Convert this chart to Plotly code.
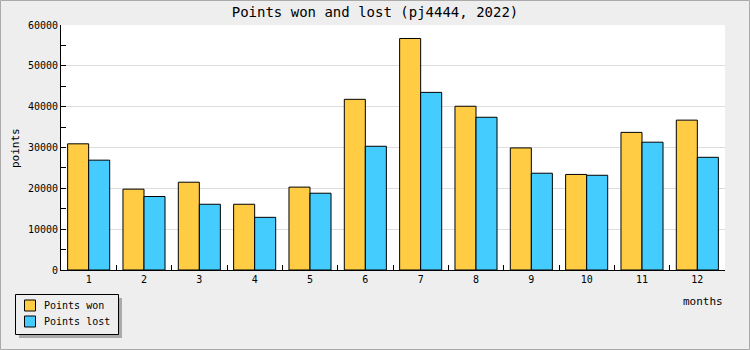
import plotly.graph_objects as go

months = ["1", "2", "3", "4", "5", "6", "7", "8", "9", "10", "11", "12"]
points_won = [30900, 19800, 21500, 16100, 20300, 41800, 56700, 40100, 29900, 23400, 33700, 36700]
points_lost = [26900, 18000, 16100, 12900, 18800, 30300, 43500, 37400, 23700, 23200, 31300, 27600]
series_names = ["Points won", "Points lost"]
series_colors = ["#FFCC44", "#44CCFF"]

FONT = "DejaVu Sans Mono"
L, R, T, B = 61, 25, 25, 80
W, H = 750, 350
pw, ph = W - L - R, H - T - B

def px_x(p):
    return (p - L) / pw

def px_y(p):
    return (H - B - p) / ph

fig = go.Figure()
for name, vals, col in zip(series_names, [points_won, points_lost], series_colors):
    fig.add_trace(go.Bar(x=months, y=vals, name=name,
                         marker=dict(color=col, line=dict(color="#000000", width=1))))

shapes = [
    dict(type="rect", xref="paper", yref="paper",
         x0=px_x(0.5), x1=px_x(W - 0.5), y0=px_y(0.5), y1=px_y(H - 0.5),
         line=dict(color="#AAAAAA", width=1), fillcolor="rgba(0,0,0,0)", layer="above"),
    # legend shadow and box
    dict(type="rect", xref="paper", yref="paper",
         x0=px_x(19), x1=px_x(122), y0=px_y(298), y1=px_y(338),
         line=dict(width=0), fillcolor="#AAAAAA", layer="above"),
    dict(type="rect", xref="paper", yref="paper",
         x0=px_x(15.5), x1=px_x(118.5), y0=px_y(294.5), y1=px_y(334.5),
         line=dict(color="#000000", width=1), fillcolor="#EEEEEE", layer="above"),
]
annotations = [
    dict(text="points", xref="paper", yref="paper", x=px_x(15), y=px_y(148),
         textangle=-90, showarrow=False, font=dict(family=FONT, size=11),
         xanchor="center", yanchor="middle"),
    dict(text="months", xref="paper", yref="paper", x=px_x(725), y=px_y(301),
         showarrow=False, font=dict(family=FONT, size=11),
         xanchor="right", yanchor="middle"),
]
for i, (name, col) in enumerate(zip(series_names, series_colors)):
    cy = 305.5 + 16 * i
    shapes.append(dict(type="rect", xref="paper", yref="paper",
                       x0=px_x(24.5), x1=px_x(35.5), y0=px_y(cy - 5.5), y1=px_y(cy + 5.5),
                       line=dict(color="#000000", width=1), fillcolor=col, layer="above"))
    annotations.append(dict(text=name, xref="paper", yref="paper", x=px_x(42), y=px_y(cy),
                            showarrow=False, xanchor="left", yanchor="middle",
                            font=dict(family=FONT, size=10)))

fig.update_layout(
    width=W, height=H,
    margin=dict(l=L, r=R, t=T, b=B),
    paper_bgcolor="#EEEEEE", plot_bgcolor="#FFFFFF",
    font=dict(family=FONT, size=11, color="#000000"),
    title=dict(text="Points won and lost (pj4444, 2022)", x=0.5, xanchor="center",
               y=1 - 12 / H, yanchor="middle", font=dict(family=FONT, size=14, color="#000000")),
    barmode="group", bargap=0.24, bargroupgap=0,
    showlegend=False,
    xaxis=dict(type="category", showline=True, linecolor="#000000", linewidth=1,
               ticks="inside", tickson="boundaries", ticklen=5, tickcolor="#000000",
               showgrid=False, tickfont=dict(family=FONT, size=10), title=None),
    yaxis=dict(range=[0, 60000], dtick=10000, tickformat="d", showline=True,
               linecolor="#000000", linewidth=1,
               ticks="inside", ticklen=5, tickcolor="#000000",
               minor=dict(ticks="inside", dtick=5000, ticklen=5, tickcolor="#000000", showgrid=False),
               showgrid=True, gridcolor="#DDDDDD", gridwidth=1, zeroline=False,
               tickfont=dict(family=FONT, size=10), title=None),
    shapes=shapes,
    annotations=annotations,
)

fig.write_html("out.html")
